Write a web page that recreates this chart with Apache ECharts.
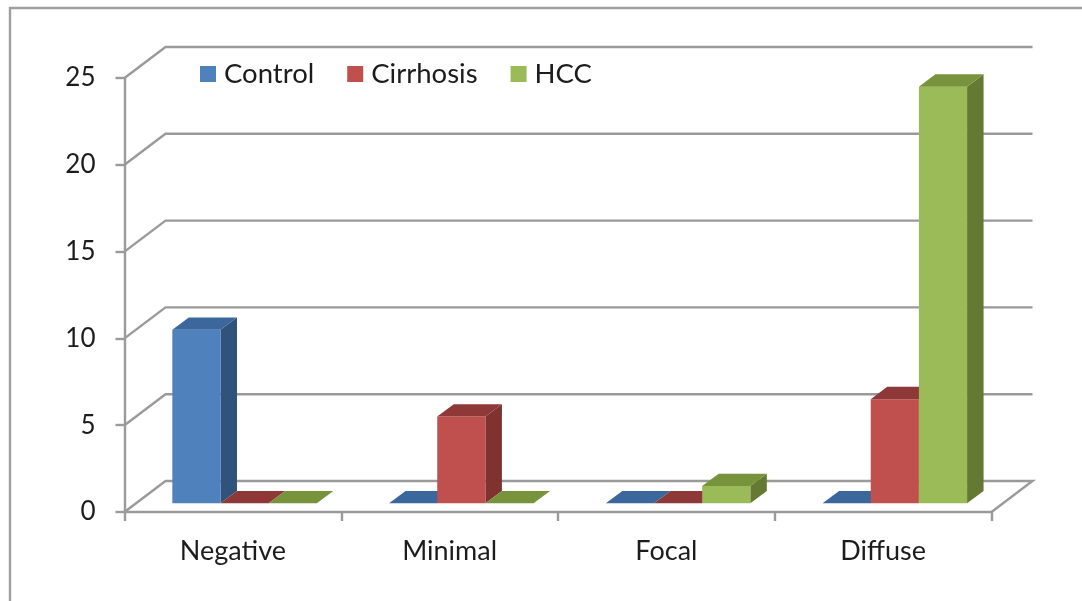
<!DOCTYPE html>
<html>
<head>
<meta charset="utf-8">
<style>
  html, body { margin: 0; padding: 0; background: #fff; }
  #chart { width: 1082px; height: 601px; }
</style>
<script src="https://cdn.jsdelivr.net/npm/echarts@6/dist/echarts.min.js"></script>
</head>
<body>
<div id="chart"></div>
<script>
const categories = ['Negative', 'Minimal', 'Focal', 'Diffuse'];
const control = [10, 0, 0, 0];
const cirrhosis = [0, 5, 0, 6];
const hcc = [0, 0, 1, 24];
const yTicks = [0, 5, 10, 15, 20, 25];

const FONT = 'Lato';
const LINE = '#9a9a9a';
const TEXT = '#1c1c1c';
// fake 3d: how far the back wall sits from the axis plane, and where the bars stand
const WALL = { dx: 41, dy: 31 };
const BAR = { dx: 11.7, dy: 8.7, depthX: 16.5, depthY: 12.3 };

function barRenderer(k, front, top, side) {
  return (params, api) => {
    const center = api.coord([api.value(0), 0])[0];
    const band = api.size([1, 0])[0];
    const w = band / 4.5;
    const x0 = center - 1.5 * w + k * w + BAR.dx;
    const x1 = x0 + w;
    const y0 = api.coord([0, 0])[1] - BAR.dy;
    const y1 = api.coord([0, api.value(1)])[1] - BAR.dy;
    const dx = BAR.depthX, dy = BAR.depthY;
    const children = [];
    if (y0 - y1 > 0.5) {
      children.push({
        type: 'polygon',
        shape: { points: [[x1, y1], [x1 + dx, y1 - dy], [x1 + dx, y0 - dy], [x1, y0]] },
        style: { fill: side }
      });
      children.push({
        type: 'rect',
        shape: { x: x0, y: y1, width: w, height: y0 - y1 },
        style: { fill: front }
      });
    }
    children.push({
      type: 'polygon',
      shape: { points: [[x0, y1], [x0 + dx, y1 - dy], [x1 + dx, y1 - dy], [x1, y1]] },
      style: { fill: top }
    });
    return { type: 'group', children };
  };
}

function wallRenderer(params, api) {
  const cs = params.coordSys;
  const v = api.value(0);
  const y = api.coord([0, v])[1];
  const left = cs.x, right = cs.x + cs.width;
  const pts = [[left, y], [left + WALL.dx, y - WALL.dy], [right + WALL.dx, y - WALL.dy]];
  if (v === 0) pts.push([right, y]);
  return {
    type: 'polyline',
    shape: { points: pts },
    style: { stroke: LINE, lineWidth: 2.4, fill: null }
  };
}

function barSeries(name, values, k, front, top, side) {
  return {
    name,
    type: 'custom',
    renderItem: barRenderer(k, front, top, side),
    itemStyle: { color: front },
    encode: { x: 0, y: 1 },
    data: values.map((v, i) => [i, v]),
    z: 3
  };
}

const myChart = echarts.init(document.getElementById('chart'));

myChart.setOption({
  animation: false,
  backgroundColor: '#fff',
  graphic: [{
    type: 'polyline',
    shape: { points: [[10, 601], [10, 8], [1082, 8]] },
    style: { stroke: '#a0a0a0', lineWidth: 2.4, fill: null }
  }],
  grid: { left: 124.5, top: 78, width: 867, height: 434 },
  legend: {
    left: 195,
    top: 55,
    itemWidth: 16,
    itemHeight: 16,
    itemGap: 33,
    icon: 'rect',
    data: ['Control', 'Cirrhosis', 'HCC'],
    textStyle: { fontFamily: FONT, fontSize: 27.5, color: TEXT, padding: [0, 0, 0, 3] }
  },
  xAxis: {
    type: 'category',
    data: categories,
    axisLine: { lineStyle: { color: LINE, width: 2.4 } },
    axisTick: { show: true, length: 9, lineStyle: { color: LINE, width: 2.4 } },
    axisLabel: { fontFamily: FONT, fontSize: 27, color: TEXT, margin: 26 }
  },
  yAxis: {
    type: 'value',
    min: 0,
    max: 25,
    interval: 5,
    splitLine: { show: false },
    axisLine: { show: true, lineStyle: { color: LINE, width: 2.4 } },
    axisTick: { show: true, length: 9, lineStyle: { color: LINE, width: 2.4 } },
    axisLabel: { fontFamily: FONT, fontSize: 26, color: TEXT, margin: 29, padding: [6, 0, 0, 0] }
  },
  series: [
    {
      type: 'custom',
      silent: true,
      renderItem: wallRenderer,
      encode: { y: 0 },
      data: yTicks.map(v => [v]),
      z: 1
    },
    barSeries('Control', control, 0, '#4f81bd', '#3b679c', '#31527a'),
    barSeries('Cirrhosis', cirrhosis, 1, '#c0504d', '#8e3937', '#7f3230'),
    barSeries('HCC', hcc, 2, '#9bbb59', '#77933c', '#647a33')
  ]
});
</script>
</body>
</html>
